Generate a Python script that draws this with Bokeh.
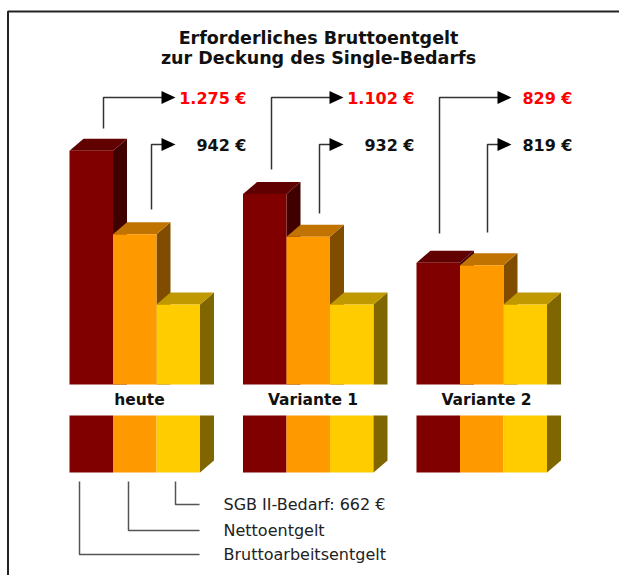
from bokeh.plotting import figure
from bokeh.models import Range1d
from bokeh.embed import file_html
from bokeh.resources import INLINE
from bokeh.core.properties import value

# ---------------- data ----------------
groups = ["heute", "Variante 1", "Variante 2"]
series = ["Bruttoarbeitsentgelt", "Nettoentgelt", "SGB II-Bedarf"]
brutto = [1275, 1102, 829]
netto = [942, 932, 819]
sgb = [662, 662, 662]
brutto_labels = ["1.275 €", "1.102 €", "829 €"]
netto_labels = ["942 €", "932 €", "819 €"]
legend_labels = ["SGB II-Bedarf: 662 €", "Nettoentgelt", "Bruttoarbeitsentgelt"]
title_lines = ["Erforderliches Bruttoentgelt", "zur Deckung des Single-Bedarfs"]

# ---------------- styles / layout ----------------
FRONT = ["#800000", "#FF9900", "#FFCC00"]
TOP = ["#600000", "#C07300", "#C09900"]
SIDE = ["#400000", "#804D00", "#806600"]
FONT = "DejaVu Sans"

W, H = 619, 575
BASE_EUR = 344.0          # value at bar foot
PX_PER_EUR = 0.2512
FOOT_Y = 384              # screen y of bar foot
GROUP_X0 = 69
GROUP_STEP = 173.5
BAR_W = 43.5
DX, DY = 14, 12           # 3D depth in pixels
DY_E = DY / PX_PER_EUR

p = figure(width=W, height=H, output_backend="svg", toolbar_location=None, tools="",
           x_range=Range1d(0, W), y_range=Range1d(H, 0),
           min_border=0, outline_line_color=None)
p.axis.visible = False
p.xgrid.visible = False
p.ygrid.visible = False
p.background_fill_color = "white"
p.border_fill_color = "white"
p.extra_y_ranges = {"eur": Range1d(BASE_EUR - (H - FOOT_Y) / PX_PER_EUR,
                                    BASE_EUR + FOOT_Y / PX_PER_EUR)}

# frame
p.line([7.5, 7.5, 640], [H + 5, 11, 11], line_color="#222222", line_width=2)

# title
for i, t in enumerate(title_lines):
    p.text(x=[318], y=[37 + i * 20], text=[t], text_font=value(FONT), text_font_style="bold",
           text_font_size="17.5px", text_align="center", text_baseline="middle", text_color="#111111")

values = [brutto, netto, sgb]
for g in range(len(groups)):
    gx = GROUP_X0 + g * GROUP_STEP
    for s in range(3):
        v = values[s][g]
        xl = gx + s * BAR_W
        xr = xl + BAR_W
        # side face
        p.patch([xr, xr + DX, xr + DX, xr], [v, v + DY_E, BASE_EUR, BASE_EUR],
                fill_color=SIDE[s], line_color=None, y_range_name="eur")
        # top face
        p.patch([xl, xl + DX, xr + DX, xr], [v, v + DY_E, v + DY_E, v],
                fill_color=TOP[s], line_color=None, y_range_name="eur")
        # front
        p.quad(left=[xl], right=[xr], top=[v], bottom=[BASE_EUR],
               fill_color=FRONT[s], line_color=None, y_range_name="eur")
        # lower key swatches
        p.quad(left=[xl], right=[xr], top=[415], bottom=[472], fill_color=FRONT[s], line_color=None)
    xr_last = gx + 3 * BAR_W
    p.patch([xr_last, xr_last + DX, xr_last + DX, xr_last], [415, 415, 472 - DY, 472],
            fill_color=SIDE[2], line_color=None)
    # category label
    p.text(x=[gx + 70], y=[399], text=[groups[g]], text_font=value(FONT), text_font_style="bold",
           text_font_size="15.5px", text_align="center", text_baseline="middle", text_color="#111111")

# arrows to value labels
ARROW_RED_X = [103, 271, 439]
ARROW_BLK_X = [151, 319, 487]
ARROW_RED_Y0 = [128, 169, 233]
ARROW_BLK_Y0 = [209, 213, 232]
TIP_X = [175, 343, 511]
LABEL_RIGHT = [246, 414, 572]
RED_Y, BLK_Y = 97, 144
for g in range(len(groups)):
    for (ax, ay0, ly, lab, col) in [
        (ARROW_RED_X[g], ARROW_RED_Y0[g], RED_Y, brutto_labels[g], "#FF0000"),
        (ARROW_BLK_X[g], ARROW_BLK_Y0[g], BLK_Y, netto_labels[g], "#111111"),
    ]:
        p.line([ax, ax, TIP_X[g] - 13], [ay0, ly, ly], line_color="#333333", line_width=1.5)
        p.patch([TIP_X[g] - 14, TIP_X[g], TIP_X[g] - 14], [ly - 6.5, ly, ly + 6.5],
                fill_color="black", line_color=None)
        p.text(x=[LABEL_RIGHT[g]], y=[ly + 1], text=[lab], text_font=value(FONT),
               text_font_style="bold", text_font_size="16px", text_align="right",
               text_baseline="middle", text_color=col)

# legend brackets
BR_X = [175, 128, 79]
BR_Y = [504, 530, 554]
for i in range(3):
    p.line([BR_X[i], BR_X[i], 199], [481, BR_Y[i], BR_Y[i]], line_color="#555555", line_width=1.5)
    p.text(x=[223], y=[BR_Y[i]], text=[legend_labels[i]], text_font=value(FONT),
           text_font_size="16px", text_align="left", text_baseline="middle", text_color="#222222")

open("out.html", "w").write(file_html(p, INLINE))
